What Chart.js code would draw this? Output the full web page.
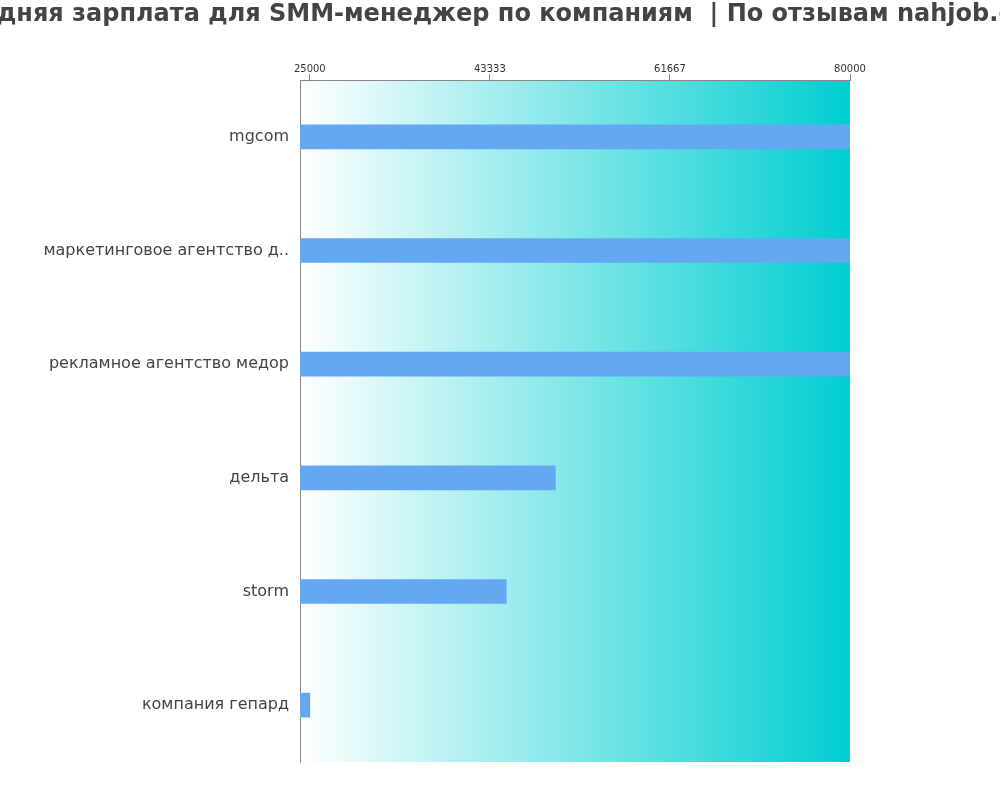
<!DOCTYPE html>
<html>
<head>
<meta charset="utf-8">
<script src="https://cdn.jsdelivr.net/npm/chart.js@4/dist/chart.umd.min.js"></script>
<style>
    body { margin: 0; background: #fff; }
    canvas { display: block; }
</style>
</head>
<body>
<canvas id="chart" width="1000" height="800"></canvas>
<script>
var companies = ['mgcom', 'маркетинговое агентство д..', 'рекламное агентство медор', 'дельта', 'storm', 'компания гепард'];
var salaries = [80000, 80000, 80000, 50000, 45000, 25000];
var xTicks = [25000, 43333, 61667, 80000];
var titleText = 'Средняя зарплата для SMM-менеджер по компаниям  | По отзывам nahjob.com';
var fontFamily = "'DejaVu Sans'";

// paint the chart area with a white -> turquoise gradient under everything
var gradientBg = {
    id: 'gradientBg',
    beforeDraw: function(chart) {
        var a = chart.chartArea;
        var ctx = chart.ctx;
        var g = ctx.createLinearGradient(a.left, 0, a.right, 0);
        g.addColorStop(0, 'rgba(255,255,255,1)');
        g.addColorStop(1, 'rgb(0,206,209)');
        ctx.save();
        ctx.fillStyle = g;
        ctx.fillRect(a.left, a.top, a.right - a.left, a.bottom - a.top);
        ctx.restore();
    }
};

// the built-in title squeezes long text to fit, so draw it by hand (it overflows the canvas on purpose)
var wideTitle = {
    id: 'wideTitle',
    afterDraw: function(chart) {
        var ctx = chart.ctx;
        ctx.save();
        ctx.font = "bold 24px " + fontFamily;
        ctx.fillStyle = '#444';
        ctx.textAlign = 'center';
        ctx.textBaseline = 'middle';
        ctx.fillText(titleText, chart.width / 2, 15);
        ctx.restore();
    }
};

var ctx = document.getElementById('chart').getContext('2d');
var chart = new Chart(ctx, {
    type: 'bar',
    data: {
        labels: companies,
        datasets: [{
            data: salaries,
            backgroundColor: 'rgb(100,168,242)',
            barThickness: 24
        }]
    },
    options: {
        indexAxis: 'y',
        responsive: false,
        animation: false,
        layout: { padding: { top: 48, right: 150, bottom: 38 } },
        plugins: {
            legend: { display: false },
            tooltip: { enabled: false },
            title: { display: false }
        },
        scales: {
            x: {
                position: 'top',
                min: 24000,
                max: 80000,
                afterBuildTicks: function(s) {
                    s.ticks = xTicks.map(function(v) { return { value: v }; });
                },
                afterFit: function(s) { s.height = 32; },
                ticks: {
                    color: '#333',
                    font: { family: fontFamily, size: 10 },
                    padding: -1,
                    maxRotation: 0,
                    callback: function(v) { return String(Math.round(v)); }
                },
                grid: { drawOnChartArea: false, drawTicks: true, tickLength: 6, color: '#888' },
                border: { color: '#888' }
            },
            y: {
                afterFit: function(s) { s.width = 300; },
                ticks: {
                    color: '#444',
                    font: { family: fontFamily, size: 16 },
                    padding: 3
                },
                grid: { display: false },
                border: { color: '#888' }
            }
        }
    },
    plugins: [gradientBg, wideTitle]
});
</script>
</body>
</html>
